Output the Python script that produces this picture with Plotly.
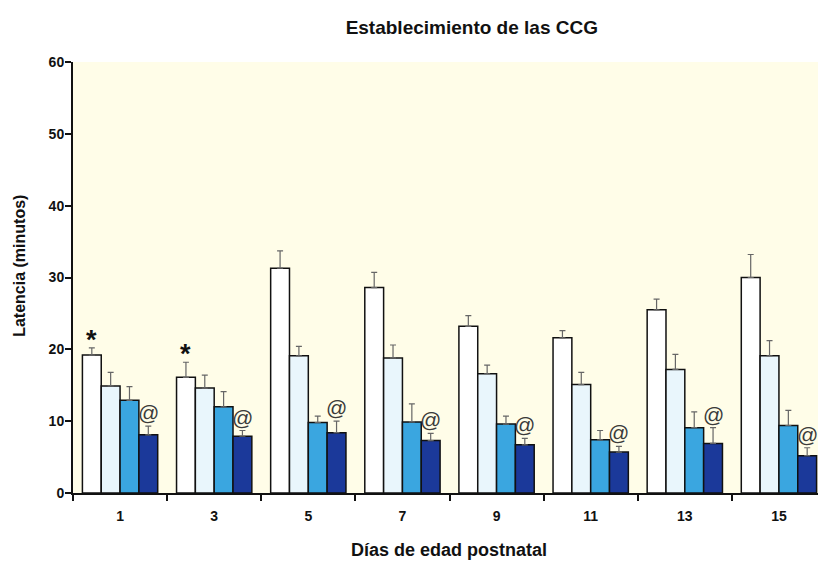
import plotly.graph_objects as go

days = ["1", "3", "5", "7", "9", "11", "13", "15"]
serie_a = [19.2, 16.1, 31.3, 28.6, 23.2, 21.6, 25.5, 30.0]
serie_a_err = [1.0, 2.1, 2.4, 2.1, 1.5, 1.0, 1.5, 3.2]
serie_b = [14.9, 14.6, 19.1, 18.8, 16.6, 15.1, 17.2, 19.1]
serie_b_err = [1.9, 1.8, 1.3, 1.8, 1.2, 1.7, 2.1, 2.1]
serie_c = [12.9, 12.0, 9.8, 9.9, 9.6, 7.4, 9.1, 9.4]
serie_c_err = [1.9, 2.1, 0.9, 2.5, 1.1, 1.3, 2.2, 2.1]
serie_d = [8.1, 7.9, 8.4, 7.3, 6.7, 5.7, 6.9, 5.2]
serie_d_err = [1.2, 0.8, 1.6, 1.0, 0.9, 0.8, 2.2, 1.1]
star_groups = [0, 1]

colors = ["#FFFFFF", "#E9F6FC", "#3AA6E0", "#1B399A"]
FONT = "Liberation Sans, Arial, sans-serif"

fig = go.Figure()
for vals, errs, col in zip([serie_a, serie_b, serie_c, serie_d],
                           [serie_a_err, serie_b_err, serie_c_err, serie_d_err], colors):
    fig.add_trace(go.Bar(
        x=days, y=vals, marker=dict(color=col, line=dict(color="#111111", width=1.5)),
        error_y=dict(type="data", array=errs, arrayminus=[0] * len(errs), symmetric=False,
                     color="#666666", thickness=1.2, width=3),
        showlegend=False,
    ))

annotations = []
for i in range(len(days)):
    annotations.append(dict(x=i + 0.3, y=serie_d[i] + serie_d_err[i], xref="x", yref="y",
                            text="@", showarrow=False, yanchor="bottom", yshift=0,
                            font=dict(family=FONT, size=21, color="#3a3a3a")))
for i in star_groups:
    annotations.append(dict(x=i - 0.3, y=serie_a[i] + serie_a_err[i], xref="x", yref="y",
                            text="*", showarrow=False, yanchor="bottom", yshift=-9,
                            font=dict(family=FONT, size=27, color="#111111", weight="bold")))
# axis titles
annotations.append(dict(text="Latencia (minutos)", textangle=-90, xref="paper", yref="paper",
                        x=-0.0704, y=0.527, xanchor="center", yanchor="middle", showarrow=False,
                        font=dict(family=FONT, size=16, color="#111111", weight="bold")))
annotations.append(dict(text="Días de edad postnatal", xref="paper", yref="paper",
                        x=0.499, y=-0.132, xanchor="center", yanchor="middle", showarrow=False,
                        font=dict(family=FONT, size=18, color="#111111", weight="bold")))

fig.update_layout(
    width=818, height=557,
    margin=dict(l=65, r=0, t=54, b=72),
    paper_bgcolor="white", plot_bgcolor="#FFFDE8",
    barmode="group", bargap=0.2, bargroupgap=0,
    title=dict(text="Establecimiento de las CCG", x=0.567, xanchor="center", y=0.966, yanchor="middle",
               font=dict(family=FONT, size=19, color="#111111", weight="bold")),
    annotations=annotations,
    font=dict(family=FONT, color="#111111"),
)
fig.update_xaxes(
    type="category", tickson="boundaries", ticks="outside", ticklen=6, tickwidth=2, tickcolor="#111111",
    showline=True, linecolor="#111111", linewidth=2, showgrid=False, ticklabelstandoff=9,
    tickfont=dict(family=FONT, size=14, color="#111111", weight="bold"),
)
fig.update_yaxes(
    range=[0, 60], dtick=10, ticks="outside", ticklen=6, tickwidth=2, tickcolor="#111111",
    showline=True, linecolor="#111111", linewidth=2, showgrid=False, zeroline=False,
    ticklabelstandoff=-2,
    tickfont=dict(family=FONT, size=14, color="#111111", weight="bold"),
)
fig.write_html("out.html")
